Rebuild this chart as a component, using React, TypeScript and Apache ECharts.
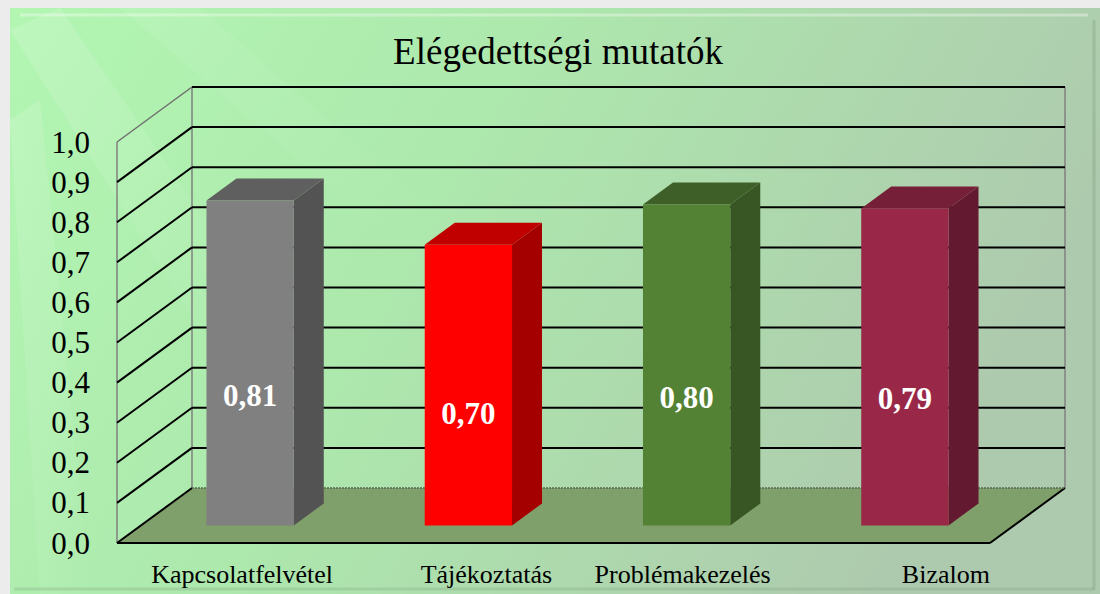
import React, { useEffect, useRef } from "react";
import * as echarts from "echarts";

const categories = ["Kapcsolatfelvétel", "Tájékoztatás", "Problémakezelés", "Bizalom"];
const values = [0.81, 0.7, 0.8, 0.79];
const yTicks = [0, 0.1, 0.2, 0.3, 0.4, 0.5, 0.6, 0.7, 0.8, 0.9, 1.0];
const frontColors = ["#808080", "#ff0000", "#548235", "#992848"];
const sideColors = ["#535353", "#a50000", "#375623", "#631a30"];
const topColors = ["#5f5f5f", "#c00000", "#3e5f27", "#761f39"];
const titleText = "Elégedettségi mutatók";

// style constants
const labelShift = [16, 42, 20, 65];
const DX = 75;
const DY = -55;
const F0 = 0.32;
const F1 = 0.72;
const BAR_W = 0.4;
const SERIF = "'Liberation Serif', 'Times New Roman', serif";

const comma = (v: number, d: number) => v.toFixed(d).replace(".", ",");

export default function App() {
  const ref = useRef<HTMLDivElement>(null);
  useEffect(() => {
    if (!ref.current) return;
    const chart = echarts.init(ref.current, null, { renderer: "svg" });

    const streak = (pts: number[][], a: number) => ({
      type: "polygon",
      z: -9,
      silent: true,
      shape: { points: pts },
      style: {
        fill: new echarts.graphic.LinearGradient(0, 0, 1, 1, [
          { offset: 0, color: `rgba(255,255,255,${a})` },
          { offset: 1, color: "rgba(255,255,255,0)" },
        ]),
      },
    });

    const option: any = {
      animation: false,
      backgroundColor: "#ececec",
      title: {
        text: titleText,
        left: 553,
        top: 28,
        textAlign: "center",
        textStyle: { fontFamily: SERIF, fontSize: 37, fontWeight: "normal", color: "#000" },
      },
      graphic: [
        {
          type: "rect",
          z: -10,
          silent: true,
          shape: { x: 10, y: 8, width: 1090, height: 586 },
          style: {
            fill: new echarts.graphic.LinearGradient(0, 0, 1, 0.3, [
              { offset: 0, color: "#b2f6b2" },
              { offset: 0.45, color: "#ade8ad" },
              { offset: 1, color: "#aecaae" },
            ]),
          },
        },
        streak([[10, 30], [60, 8], [260, 300], [200, 330]], 0.16),
        streak([[10, 120], [40, 100], [90, 594], [40, 594]], 0.16),
        streak([[120, 8], [200, 8], [420, 200], [380, 230]], 0.08),
        {
          type: "line",
          z: -8,
          silent: true,
          shape: { x1: 20, y1: 15, x2: 1088, y2: 15 },
          style: { stroke: "rgba(255,255,255,0.35)", lineWidth: 3 },
        },
        {
          type: "line",
          z: -8,
          silent: true,
          shape: { x1: 1094, y1: 20, x2: 1094, y2: 590 },
          style: { stroke: "rgba(120,150,120,0.3)", lineWidth: 3 },
        },
        {
          type: "line",
          z: -8,
          silent: true,
          shape: { x1: 14, y1: 589, x2: 1094, y2: 589 },
          style: { stroke: "rgba(120,150,120,0.25)", lineWidth: 3 },
        },
      ],
      grid: { left: 117, top: 142, width: 873, height: 401, containLabel: false },
      xAxis: {
        type: "category",
        data: categories.map((c, i) => ({
          value: c,
          textStyle: {
            padding: [0, 0, 0, labelShift[i] * 2],
            fontFamily: SERIF,
            fontSize: 26,
            color: "#000",
          },
        })),
        axisLine: { show: false },
        axisTick: { show: false },
        splitLine: { show: false },
        axisLabel: {
          interval: 0,
          margin: 18,
          fontFamily: SERIF,
          fontSize: 26,
          color: "#000",
        },
      },
      yAxis: {
        type: "value",
        min: 0,
        max: 1,
        interval: 0.1,
        axisLine: { show: false },
        axisTick: { show: false },
        splitLine: { show: false },
        axisLabel: {
          margin: 27,
          fontFamily: SERIF,
          fontSize: 31,
          color: "#000",
          formatter: (v: number) => comma(v, 1),
        },
      },
      series: [
        {
          type: "custom",
          name: "floor",
          z: 1,
          clip: false,
          silent: true,
          data: [[0, 0]],
          renderItem: (params: any, api: any) => {
            const cs = params.coordSys;
            const xl = cs.x;
            const xr = cs.x + cs.width;
            const y0 = api.coord([0, 0])[1];
            const y1 = api.coord([0, 1])[1];
            const grey = { stroke: "#808080", lineWidth: 1.5 };
            return {
              type: "group",
              children: [
                {
                  type: "polygon",
                  shape: { points: [[xl, y0], [xl + DX, y0 + DY], [xr + DX, y0 + DY], [xr, y0]] },
                  style: { fill: "#7f9f6b" },
                },
                { type: "line", shape: { x1: xl, y1: y0, x2: xl, y2: y1 }, style: grey },
                { type: "line", shape: { x1: xl + DX, y1: y0 + DY, x2: xl + DX, y2: y1 + DY }, style: grey },
                { type: "line", shape: { x1: xr + DX, y1: y0 + DY, x2: xr + DX, y2: y1 + DY }, style: grey },
                { type: "line", shape: { x1: xl, y1: y0, x2: xr, y2: y0 }, style: { stroke: "#000", lineWidth: 2 } },
                { type: "line", shape: { x1: xr, y1: y0, x2: xr + DX, y2: y0 + DY }, style: { stroke: "#000", lineWidth: 2 } },
              ],
            };
          },
        },
        {
          type: "custom",
          name: "grid3d",
          z: 2,
          clip: false,
          silent: true,
          data: yTicks.map((t) => [0, t]),
          renderItem: (params: any, api: any) => {
            const cs = params.coordSys;
            const xl = cs.x;
            const xr = cs.x + cs.width;
            const v = api.value(1);
            const y = api.coord([0, v])[1];
            const black = { stroke: "#000", lineWidth: 2 };
            const grey = { stroke: "#6f6f6f", lineWidth: 1.5 };
            const isBottom = v === 0;
            const isTop = v === 1;
            return {
              type: "group",
              children: [
                {
                  type: "line",
                  shape: { x1: xl, y1: y, x2: xl + DX, y2: y + DY },
                  style: isTop ? grey : black,
                },
                {
                  type: "line",
                  shape: { x1: xl + DX, y1: y + DY, x2: xr + DX, y2: y + DY },
                  style: isBottom ? { stroke: "#5a6a50", lineWidth: 1.5, lineDash: [2, 1] } : black,
                },
              ],
            };
          },
        },
        {
          type: "custom",
          name: "bars",
          z: 3,
          clip: false,
          data: values.map((v, i) => [i, v]),
          renderItem: (params: any, api: any) => {
            const i = api.value(0);
            const v = api.value(1);
            const base = api.coord([i, 0]);
            const top = api.coord([i, v]);
            const bw = api.size([1, 0])[0] * BAR_W;
            const x0 = base[0] - bw / 2 + DX * F0;
            const x1 = x0 + bw;
            const yb = base[1] + DY * F0;
            const yt = top[1] + DY * F0;
            const ddx = DX * (F1 - F0);
            const ddy = DY * (F1 - F0);
            const idx = params.dataIndex;
            return {
              type: "group",
              children: [
                {
                  type: "polygon",
                  shape: { points: [[x1, yt], [x1 + ddx, yt + ddy], [x1 + ddx, yb + ddy], [x1, yb]] },
                  style: { fill: sideColors[idx] },
                },
                {
                  type: "polygon",
                  shape: { points: [[x0, yt], [x0 + ddx, yt + ddy], [x1 + ddx, yt + ddy], [x1, yt]] },
                  style: { fill: topColors[idx] },
                },
                {
                  type: "rect",
                  shape: { x: x0, y: yt, width: bw, height: yb - yt },
                  style: { fill: frontColors[idx] },
                },
                {
                  type: "text",
                  x: x0 + bw / 2,
                  y: yt + (yb - yt) * 0.6,
                  style: {
                    text: comma(v, 2),
                    fill: "#fff",
                    fontFamily: SERIF,
                    fontSize: 31,
                    fontWeight: "bold",
                    align: "center",
                    verticalAlign: "middle",
                    textAlign: "center",
                    textVerticalAlign: "middle",
                  },
                },
              ],
            };
          },
        },
      ],
    };
    chart.setOption(option);
    return () => chart.dispose();
  }, []);
  return (
    <div
      ref={ref}
      style={{ position: "absolute", left: 0, top: 0, width: 1100, height: 594 }}
    />
  );
}
